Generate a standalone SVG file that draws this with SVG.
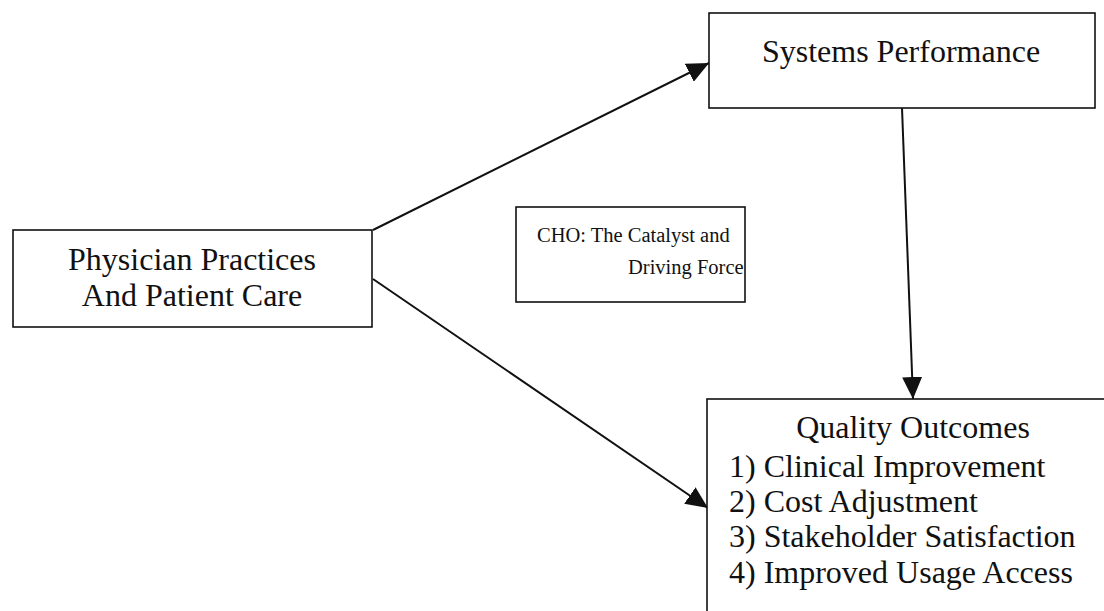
<svg xmlns="http://www.w3.org/2000/svg" width="1104" height="611" viewBox="0 0 1104 611">
<style>
.box{fill:#fff;stroke:#111;stroke-width:1.6}
.t{font-family:"Liberation Serif","Times New Roman",serif;font-size:32px;fill:#111}
.s{font-size:20.5px}
.c{text-anchor:middle}
.con{stroke:#111;stroke-width:2;fill:none}
</style>
<defs>
<marker id="ah" markerUnits="userSpaceOnUse" markerWidth="22" markerHeight="20" refX="22" refY="10" orient="auto" viewBox="0 0 22 20">
<path d="M0,0 L22,10 L0,20 z" fill="#111"/>
</marker>
</defs>
<rect width="1104" height="611" fill="#fff"/>
<g id="connectors">
<line class="con" x1="373" y1="230" x2="709" y2="63" marker-end="url(#ah)"/>
<line class="con" x1="373" y1="279" x2="708" y2="508" marker-end="url(#ah)"/>
<line class="con" x1="902" y1="108" x2="913" y2="399" marker-end="url(#ah)"/>
</g>
<g id="node-systems">
<rect class="box" x="709" y="13" width="386" height="95"/>
<text class="t c" x="901" y="62">Systems Performance</text>
</g>
<g id="node-physician">
<rect class="box" x="13" y="230" width="359" height="97"/>
<text class="t c" x="192" y="270">Physician Practices</text>
<text class="t c" x="192" y="306">And Patient Care</text>
</g>
<g id="node-cho">
<rect class="box" x="516" y="207" width="229" height="95"/>
<text class="t s" x="537" y="242">CHO: The Catalyst and</text>
<text class="t s" x="628" y="274">Driving Force</text>
</g>
<g id="node-quality">
<rect class="box" x="707" y="399" width="420" height="230"/>
<text class="t c" x="913" y="438">Quality Outcomes</text>
<text class="t" x="729" y="477">1) Clinical Improvement</text>
<text class="t" x="729" y="512">2) Cost Adjustment</text>
<text class="t" x="729" y="547">3) Stakeholder Satisfaction</text>
<text class="t" x="729" y="583">4) Improved Usage Access</text>
</g>
</svg>
